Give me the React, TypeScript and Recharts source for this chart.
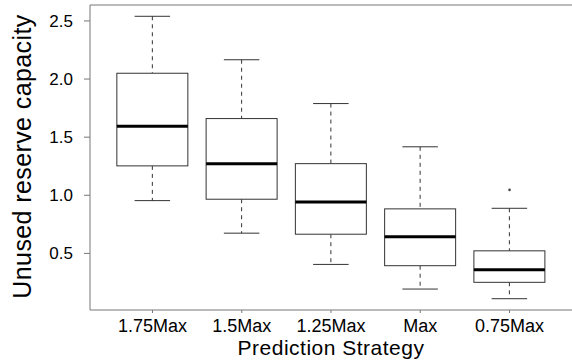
import React from 'react';
import { ComposedChart, Bar, Scatter, XAxis, YAxis, ReferenceLine } from 'recharts';

const categories = ['1.75Max', '1.5Max', '1.25Max', 'Max', '0.75Max'];
const whiskerLow = [0.954, 0.674, 0.405, 0.193, 0.11];
const q1Values = [1.253, 0.966, 0.665, 0.394, 0.251];
const medianValues = [1.594, 1.272, 0.943, 0.643, 0.359];
const q3Values = [2.05, 1.66, 1.272, 0.883, 0.522];
const whiskerHigh = [2.54, 2.166, 1.789, 1.417, 0.888];
const outlierValues: (number | null)[] = [null, null, null, null, 1.046];
const yTicks = [0.5, 1.0, 1.5, 2.0, 2.5];

const dataMin = Math.min(...whiskerLow);
const dataMax = Math.max(...whiskerHigh);
const ext = (dataMax - dataMin) * 0.04;
const yDomain: [number, number] = [dataMin - ext, dataMax + ext];

const data = categories.map((c, i) => ({
  name: c,
  min: whiskerLow[i],
  q1: q1Values[i],
  median: medianValues[i],
  q3: q3Values[i],
  max: whiskerHigh[i],
  outlier: outlierValues[i],
}));

const FONT = '"Liberation Sans", Arial, sans-serif';
const BOX = '#333';

const BoxShape = (props: any) => {
  const { x, width, y, height, payload } = props;
  if (x == null || y == null) return null;
  const top = Math.min(y, y + height);
  const bottom = Math.max(y, y + height);
  const span = payload.max - payload.min;
  const toY = (v: number) => top + ((payload.max - v) / span) * (bottom - top);
  const cx = x + width / 2;
  const yQ1 = toY(payload.q1);
  const yQ3 = toY(payload.q3);
  const yMed = toY(payload.median);
  const capHalf = width / 4;
  return (
    <g>
      <line x1={cx} x2={cx} y1={top} y2={yQ3} stroke={BOX} strokeWidth={1} strokeDasharray="4 4" />
      <line x1={cx} x2={cx} y1={yQ1} y2={bottom} stroke={BOX} strokeWidth={1} strokeDasharray="4 4" />
      <line x1={cx - capHalf} x2={cx + capHalf} y1={top} y2={top} stroke={BOX} strokeWidth={1} />
      <line x1={cx - capHalf} x2={cx + capHalf} y1={bottom} y2={bottom} stroke={BOX} strokeWidth={1} />
      <rect x={x} y={yQ3} width={width} height={yQ1 - yQ3} fill="#fff" stroke={BOX} strokeWidth={1} />
      <line x1={x} x2={x + width} y1={yMed} y2={yMed} stroke="#000" strokeWidth={3} />
    </g>
  );
};

const OutlierShape = (props: any) => {
  const { cx, cy, payload } = props;
  if (payload == null || payload.outlier == null || cx == null || cy == null || isNaN(cy)) return <g />;
  return <circle cx={cx} cy={cy} r={1.3} fill="#444" stroke="none" />;
};

const YTitle = (props: any) => {
  const vb = props.viewBox || { x: 0, y: 5, width: 90, height: 305 };
  const cy = vb.y + vb.height / 2 - 1;
  return (
    <text
      x={31}
      y={cy}
      transform={`rotate(-90, 31, ${cy})`}
      textAnchor="middle"
      fontFamily={FONT}
      fontSize={25}
      letterSpacing={0.4}
      fill="#000"
    >
      Unused reserve capacity
    </text>
  );
};

const XTitle = (props: any) => {
  const vb = props.viewBox || { x: 90, y: 310, width: 482, height: 52 };
  const cx = vb.x + vb.width / 2;
  return (
    <text x={cx} y={355} textAnchor="middle" fontFamily={FONT} fontSize={21} letterSpacing={0.5} fill="#000">
      Prediction Strategy
    </text>
  );
};

export default function App() {
  return (
    <div style={{ position: 'absolute', left: 0, top: 0, background: '#fff' }}>
      <ComposedChart
        width={572}
        height={362}
        data={data}
        margin={{ top: 5, right: 0, left: 0, bottom: 0 }}
        barSize={71}
      >
        <XAxis
          dataKey="name"
          type="category"
          height={52}
          padding={{ left: 17.85, right: 17.85 }}
          axisLine={{ stroke: '#777' }}
          tickLine={{ stroke: '#777' }}
          tickSize={3}
          tickMargin={6}
          tick={{ fontSize: 18, fill: '#000', fontFamily: FONT }}
          interval={0}
          label={<XTitle />}
        />
        <YAxis
          type="number"
          domain={yDomain}
          allowDataOverflow
          ticks={yTicks}
          tickFormatter={(v: number) => v.toFixed(1)}
          width={90}
          axisLine={{ stroke: '#777' }}
          tickLine={{ stroke: '#777' }}
          tickSize={6}
          tickMargin={11}
          tick={{ fontSize: 17, fill: '#000', fontFamily: FONT }}
          label={<YTitle />}
        />
        <ReferenceLine y={yDomain[1]} stroke="#777" ifOverflow="extendDomain" />
        <Bar
          dataKey={(d: any) => [d.min, d.max]}
          shape={<BoxShape />}
          isAnimationActive={false}
        />
        <Scatter dataKey="outlier" shape={<OutlierShape />} isAnimationActive={false} />
      </ComposedChart>
    </div>
  );
}
